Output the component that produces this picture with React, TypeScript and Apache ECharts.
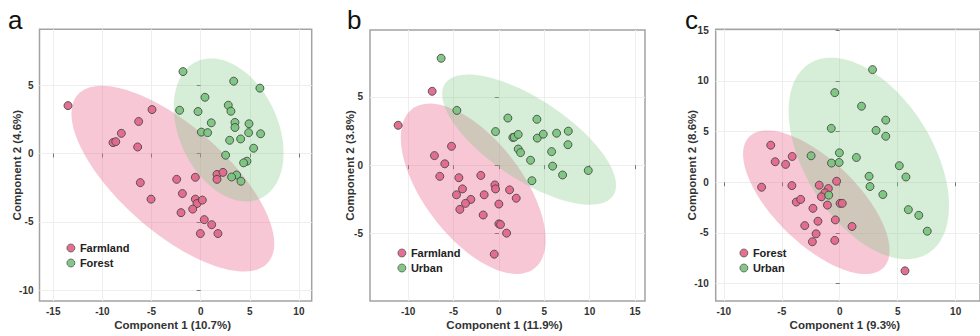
import React, { useEffect, useRef } from "react";
import * as echarts from "echarts";

// ---------- Data ----------
const farmlandA: number[][] = [
  [-13.5, 3.51], [-4.95, 3.22], [-6.31, 2.35], [-8.07, 1.48], [-8.92, 0.8], [-8.64, 0.87],
  [-6.41, 0.48], [-6.14, -2.13], [-5.05, -3.34], [-2.44, -1.89], [-0.54, -1.74], [-1.86, -2.93],
  [-0.54, -3.34], [-0.37, -3.66], [0.17, -3.41], [-0.81, -4.07], [-2.0, -4.33], [0.37, -4.84],
  [1.12, -5.21], [-0.03, -5.86], [1.76, -5.86], [1.66, -1.53], [1.66, -1.89], [2.27, -1.38],
];
const forestA: number[][] = [
  [-1.8, 6.0], [3.36, 5.3], [6.03, 4.79], [0.44, 4.12], [-2.14, 3.17], [-0.27, 3.08],
  [2.81, 3.54], [3.08, 3.1], [1.08, 2.25], [3.49, 2.28], [3.49, 1.91], [4.92, 2.18],
  [0.07, 1.57], [0.71, 1.53], [4.88, 1.53], [6.1, 1.45], [4.07, 1.07], [2.95, 0.97],
  [5.39, 0.39], [2.54, -0.12], [4.71, -0.56], [4.37, -0.68], [3.66, -1.57], [3.15, -1.72],
  [4.1, -2.03],
];
const farmlandB: number[][] = [
  [-11.1, 2.92], [-7.35, 5.41], [-7.1, 0.7], [-5.22, 1.38], [-5.96, 0.1], [-6.51, -0.82],
  [-4.41, -0.92], [-4.01, -1.74], [-4.67, -2.17], [-3.09, -2.51], [-3.68, -2.8], [-4.3, -3.24],
  [-1.99, -0.75], [-1.62, -2.17], [-0.44, -1.45], [-0.37, -1.74], [1.18, -1.81], [1.91, -2.42],
  [0.0, -2.85], [-1.73, -3.65], [0.0, -4.3], [0.18, -4.35], [0.85, -4.98], [-0.51, -6.52],
];
const urbanB: number[][] = [
  [-6.36, 7.83], [-4.63, 4.01], [0.99, 3.45], [4.19, 3.36], [-0.37, 2.46], [1.54, 2.03],
  [1.69, 2.05], [2.13, 2.25], [4.23, 1.98], [4.89, 2.27], [6.36, 2.34], [7.65, 2.49],
  [7.61, 1.5], [2.13, 1.18], [2.39, 0.92], [3.49, 0.36], [5.81, 0.99], [5.92, -0.07],
  [7.02, -0.72], [9.85, -0.39], [3.64, -1.14],
];
const forestC: number[][] = [
  [-5.95, 3.65], [-5.57, 2.02], [-4.67, 1.76], [-4.1, 2.54], [-6.74, -0.49], [-4.13, -0.33],
  [-3.75, -1.95], [-3.37, -1.69], [-2.31, -2.57], [-1.77, -0.29], [-0.98, -0.62], [-1.28, -1.04],
  [-1.58, -1.43], [-1.06, -2.25], [-0.27, 0.1], [0.03, -2.08], [0.22, -2.08], [-1.88, -3.84],
  [-3.02, -4.27], [-2.04, -5.08], [-2.36, -5.86], [-0.38, -3.71], [1.06, -4.36], [-0.43, -5.73],
  [5.63, -8.73],
];
const urbanC: number[][] = [
  [2.83, 11.1], [-0.43, 8.83], [1.88, 7.49], [3.97, 6.12], [-0.73, 5.31], [3.13, 5.11],
  [3.97, 4.53], [-2.47, 2.61], [-0.03, 2.9], [1.44, 2.44], [-0.71, 1.89], [-0.05, 1.95],
  [5.14, 1.63], [2.53, 0.59], [5.71, 0.52], [2.61, -0.42], [3.72, -1.21], [5.92, -2.7],
  [6.82, -3.26], [7.55, -4.82], [-0.95, -1.27],
];

// Confidence ellipses: [centerX, centerY, halfWidthX, halfHeightY, correlation]
const ellipseFarmlandA = [-2.83, -1.84, 10.32, 6.8, -0.7];
const ellipseForestA = [2.85, 1.73, 5.59, 5.24, -0.32];
const ellipseFarmlandB = [-2.83, -1.73, 7.98, 6.24, -0.6];
const ellipseUrbanB = [3.33, 1.87, 9.58, 4.77, -0.7];
const ellipseForestC = [-2.02, -1.97, 6.32, 7.08, -0.67];
const ellipseUrbanC = [2.51, 2.35, 6.92, 9.93, -0.47];

// Axes
const panelLetters = ["a", "b", "c"];
const xNames = ["Component 1 (10.7%)", "Component 1 (11.9%)", "Component 1 (9.3%)"];
const yNames = ["Component 2 (4.6%)", "Component 2 (3.8%)", "Component 2 (8.6%)"];
const xRanges = [[-16.4, 11.3], [-14.2, 16.1], [-10.7, 12.1]];
const yRanges = [[-10.8, 9.1], [-9.95, 9.9], [-11.7, 15.07]];
const xTicks = [[-15, -10, -5, 0, 5, 10], [-10, -5, 0, 5, 10, 15], [-10, -5, 0, 5, 10]];
const yTicks = [[-10, -5, 0, 5], [-5, 0, 5], [-10, -5, 0, 5, 10, 15]];
const groupNames = [["Farmland", "Forest"], ["Farmland", "Urban"], ["Forest", "Urban"]];

// ---------- Layout / style ----------
const grids = [
  { left: 39.5, top: 29.3, width: 272.2, height: 274 },
  { left: 370, top: 30, width: 275, height: 274 },
  { left: 715.7, top: 29.3, width: 280, height: 274 },
];
const yNameGaps = [16.5, 14, 18];
const yLabelMargins = [6, 7, 7];
const letterPos = [8, 347, 685];
const legendPos = [
  { left: 66.5, top: 242 },
  { left: 397.5, top: 247 },
  { left: 739.5, top: 247 },
];

const PINK = "#e3688b";
const GREEN = "#7bc47f";
const PINK_FILL = "rgba(234,100,140,0.36)";
const GREEN_FILL = "rgba(120,200,125,0.3)";
const FONT = "'Liberation Sans', Arial, sans-serif";

function ellipseSeries(params: number[], idx: number, fill: string) {
  return {
    type: "custom",
    xAxisIndex: idx,
    yAxisIndex: idx,
    silent: true,
    z: 1,
    data: [params],
    encode: { x: 0, y: 1 },
    renderItem: (_p: any, api: any) => {
      const cx = api.value(0), cy = api.value(1), wx = api.value(2), hy = api.value(3), r = api.value(4);
      const s = Math.sqrt(1 - r * r);
      const pts: number[][] = [];
      for (let i = 0; i < 120; i++) {
        const t = (i / 120) * Math.PI * 2;
        const x = cx + wx * Math.cos(t);
        const y = cy + hy * (r * Math.cos(t) + s * Math.sin(t));
        pts.push(api.coord([x, y]));
      }
      return { type: "polygon", shape: { points: pts }, style: { fill, stroke: "none" } };
    },
  };
}

function scatterSeries(name: string, data: number[][], idx: number, color: string) {
  return {
    type: "scatter",
    name,
    xAxisIndex: idx,
    yAxisIndex: idx,
    z: 3,
    symbolSize: 8,
    data,
    itemStyle: { color, borderColor: "#444", borderWidth: 0.9, opacity: 0.95 },
  };
}

export default function App() {
  const ref = useRef<HTMLDivElement>(null);
  useEffect(() => {
    if (!ref.current) return;
    const chart = echarts.init(ref.current, undefined, { renderer: "svg" });
    const pointSets = [
      [farmlandA, forestA],
      [farmlandB, urbanB],
      [forestC, urbanC],
    ];
    const ellipseSets = [
      [ellipseFarmlandA, ellipseForestA],
      [ellipseFarmlandB, ellipseUrbanB],
      [ellipseForestC, ellipseUrbanC],
    ];
    const series: any[] = [];
    for (let i = 0; i < 3; i++) {
      series.push(ellipseSeries(ellipseSets[i][0], i, PINK_FILL));
      series.push(ellipseSeries(ellipseSets[i][1], i, GREEN_FILL));
    }
    for (let i = 0; i < 3; i++) {
      series.push(scatterSeries(groupNames[i][0], pointSets[i][0], i, PINK));
      series.push(scatterSeries(groupNames[i][1], pointSets[i][1], i, GREEN));
    }
    const axisCommon = (i: number) => ({
      gridIndex: i,
      type: "value",
      axisLine: { show: false },
      splitLine: { show: true, lineStyle: { color: "#eeeeee", width: 1 } },
      nameLocation: "middle",
      nameMoveOverlap: false,
    });
    const option: any = {
      animation: false,
      backgroundColor: "#ffffff",
      textStyle: { fontFamily: FONT },
      title: panelLetters.map((t, i) => ({
        text: t,
        left: letterPos[i],
        top: 7,
        padding: 0,
        textStyle: { fontSize: 26, fontWeight: "normal", color: "#111", fontFamily: FONT },
      })),
      grid: grids.map((g) => ({
        ...g,
        show: true,
        borderColor: "#a3a3a3",
        borderWidth: 1.5,
        backgroundColor: "transparent",
      })),
      legend: legendPos.map((p, i) => ({
        ...p,
        orient: "vertical",
        padding: 0,
        itemWidth: 8,
        itemHeight: 8,
        itemGap: 3,
        icon: "circle",
        selectedMode: false,
        textStyle: { fontSize: 11, fontWeight: "bold", color: "#222", fontFamily: FONT, lineHeight: 12 },
        data: [
          { name: groupNames[i][0], itemStyle: { color: PINK, borderColor: "#555", borderWidth: 0.8 } },
          { name: groupNames[i][1], itemStyle: { color: GREEN, borderColor: "#555", borderWidth: 0.8 } },
        ],
      })),
      xAxis: [0, 1, 2].map((i) => ({
        ...axisCommon(i),
        min: xRanges[i][0],
        max: xRanges[i][1],
        axisTick: { show: true, length: 4, lineStyle: { color: "#777" }, customValues: xTicks[i] },
        axisLabel: {
          customValues: xTicks[i],
          margin: 5,
          fontSize: 10,
          fontWeight: "bold",
          color: "#333",
          fontFamily: FONT,
        },
        name: xNames[i],
        nameGap: 18,
        nameTextStyle: { fontSize: 11.5, fontWeight: "bold", color: "#333", fontFamily: FONT, padding: [0, 6, 0, 0] },
      })),
      yAxis: [0, 1, 2].map((i) => ({
        ...axisCommon(i),
        min: yRanges[i][0],
        max: yRanges[i][1],
        axisTick: { show: true, length: 4, lineStyle: { color: "#777" }, customValues: yTicks[i] },
        axisLabel: {
          customValues: yTicks[i],
          margin: yLabelMargins[i],
          fontSize: 10,
          fontWeight: "bold",
          color: "#333",
          fontFamily: FONT,
        },
        name: yNames[i],
        nameGap: yNameGaps[i],
        nameTextStyle: { fontSize: 11.5, fontWeight: "bold", color: "#333", fontFamily: FONT },
      })),
      series,
    };
    chart.setOption(option);
    return () => chart.dispose();
  }, []);
  return (
    <div
      ref={ref}
      style={{ position: "fixed", left: 0, top: 0, width: 980, height: 336, background: "#fff" }}
    />
  );
}
